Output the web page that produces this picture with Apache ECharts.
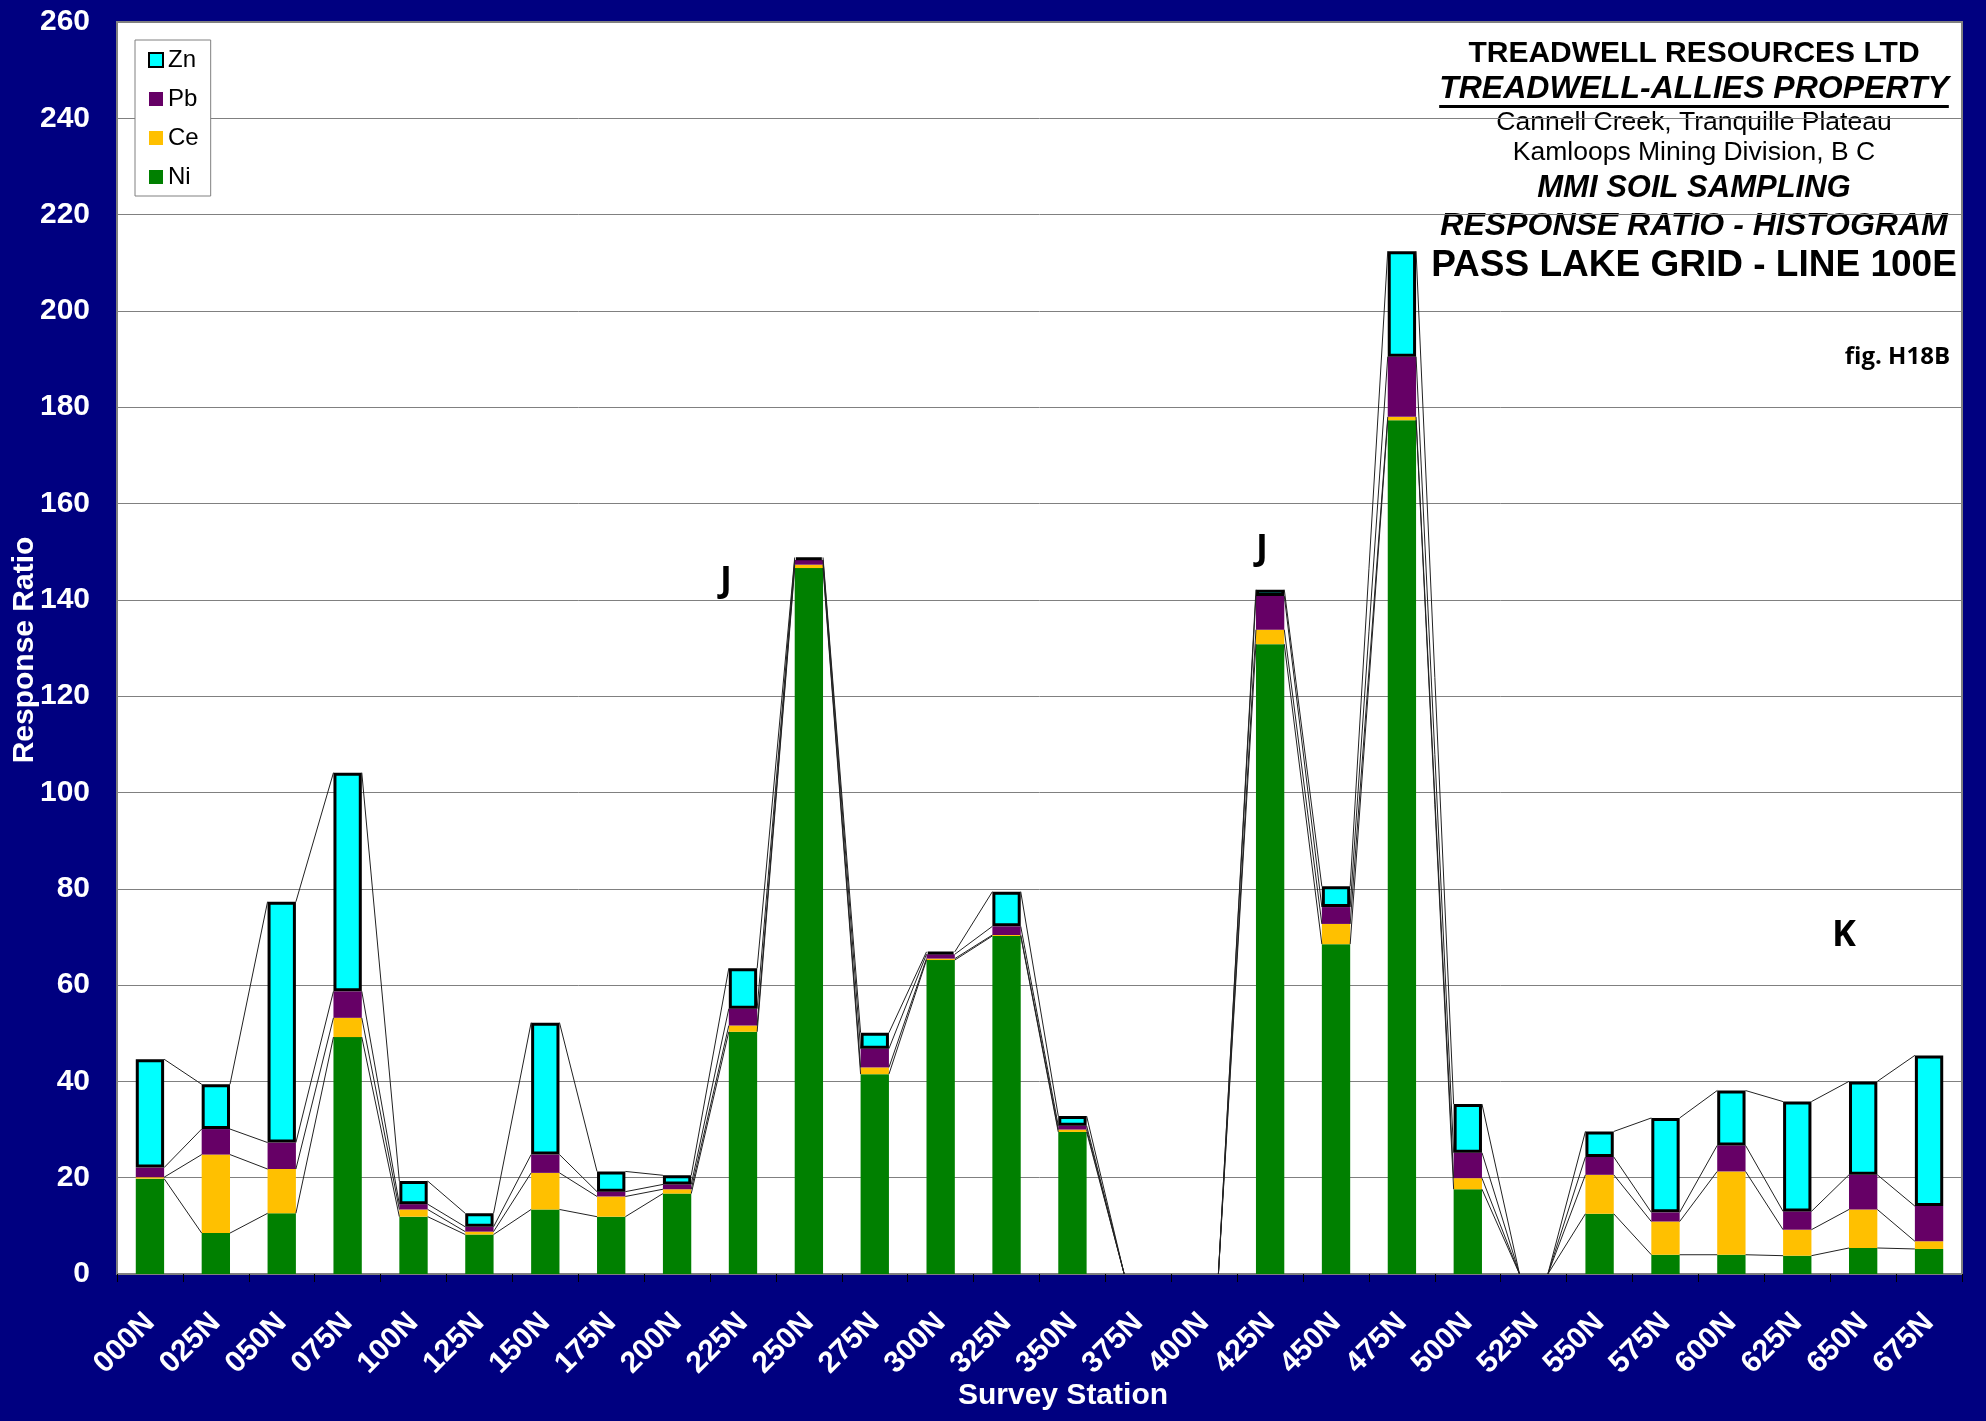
<!DOCTYPE html>
<html>
<head>
<meta charset="utf-8">
<script src="https://cdn.jsdelivr.net/npm/echarts@6/dist/echarts.min.js"></script>
<style>
  html, body { margin: 0; padding: 0; background: #000080; }
  #chart { width: 1986px; height: 1421px; }
</style>
</head>
<body>
<div id="chart"></div>
<script>
// Survey stations along line 100E
const stations = ['000N','025N','050N','075N','100N','125N','150N','175N','200N','225N',
  '250N','275N','300N','325N','350N','375N','400N','425N','450N','475N',
  '500N','525N','550N','575N','600N','625N','650N','675N'];

// Response ratios per element (stacked bottom to top: Ni, Ce, Pb, Zn)
const ni = [19.8, 8.5, 12.6, 49.2, 11.9, 8.2, 13.4, 11.9, 16.7, 50.3,
  146.6, 41.5, 65.2, 70.2, 29.5, 0, 0, 130.8, 68.5, 177.3,
  17.6, 0, 12.5, 4.0, 4.0, 3.8, 5.4, 5.2];
const ce = [0.3, 16.3, 9.2, 4.0, 1.5, 0.6, 7.6, 4.2, 0.9, 1.3,
  0.7, 1.4, 0.3, 0.2, 0.5, 0, 0, 3.0, 4.2, 0.7,
  2.3, 0, 8.1, 6.9, 17.3, 5.4, 8.0, 1.6];
const pb = [2.0, 5.3, 5.5, 5.5, 1.1, 1.0, 3.8, 1.0, 1.0, 3.5,
  1.0, 3.9, 0.9, 1.8, 0.8, 0, 0, 7.0, 3.5, 12.5,
  5.3, 0, 3.7, 1.9, 5.4, 3.8, 7.2, 7.3];
const zn = [22.5, 9.3, 50.0, 45.4, 4.8, 2.8, 27.4, 4.2, 1.9, 8.4,
  0.5, 3.3, 0.5, 7.2, 2.0, 0, 0, 1.3, 4.3, 21.9,
  10.1, 0, 5.3, 19.6, 11.4, 22.8, 19.4, 31.3];

// Value axis range
const yMin = 0, yMax = 260, yStep = 20;

// Title block lines
const titleLines = [
  { text: 'TREADWELL RESOURCES LTD', size: 30, weight: 'bold', style: 'normal', y: 54 },
  { text: 'TREADWELL-ALLIES PROPERTY', size: 32, weight: 'bold', style: 'italic', y: 89, underline: true },
  { text: 'Cannell Creek, Tranquille Plateau', size: 26.5, weight: 'normal', style: 'normal', y: 123 },
  { text: 'Kamloops Mining Division, B C', size: 26.5, weight: 'normal', style: 'normal', y: 153 },
  { text: 'MMI SOIL SAMPLING', size: 31, weight: 'bold', style: 'italic', y: 188 },
  { text: 'RESPONSE RATIO - HISTOGRAM', size: 32, weight: 'bold', style: 'italic', y: 226 },
  { text: 'PASS LAKE GRID - LINE 100E', size: 37, weight: 'bold', style: 'normal', y: 266 }
];
const figLabel = 'fig. H18B';
const zoneLabels = [
  { text: 'J', x: 726, y: 582 },
  { text: 'J', x: 1262, y: 550 },
  { text: 'K', x: 1844, y: 936 }
];

const FONT = 'Arial, "Liberation Sans", sans-serif';
const NOTE_FONT = '"Open Sans", "Noto Sans", sans-serif';
const BAR_FRACTION = 0.43;
const COLORS = { Zn: '#00FFFF', Pb: '#660066', Ce: '#FFC000', Ni: '#008000' };

// Cumulative tops of each stack level, used for the series lines
const layers = [ni, ce, pb, zn];
const cum = layers.map((_, k) =>
  stations.map((_, i) => layers.slice(0, k + 1).reduce((s, arr) => s + arr[i], 0)));

const asBar = arr => arr.map(v => (v === 0 ? '-' : v));

function textWidth(text, font) {
  const ctx = document.createElement('canvas').getContext('2d');
  ctx.font = font;
  return ctx.measureText(text).width;
}

const TITLE_CX = 1694;
const graphics = [];
titleLines.forEach(l => {
  const font = `${l.style} ${l.weight} ${l.size}px ${FONT}`;
  graphics.push({
    type: 'text', x: TITLE_CX, y: l.y, silent: true,
    style: { text: l.text, fill: '#000', font, textAlign: 'center', textVerticalAlign: 'middle' }
  });
  if (l.underline) {
    const w = textWidth(l.text, font);
    graphics.push({
      type: 'rect', silent: true,
      shape: { x: TITLE_CX - w / 2, y: l.y + l.size * 0.5, width: w, height: 3 },
      style: { fill: '#000' }
    });
  }
});
graphics.push({
  type: 'text', x: 1950, y: 357, silent: true,
  style: { text: figLabel, fill: '#000', font: `bold 24px ${NOTE_FONT}`, textAlign: 'right', textVerticalAlign: 'middle' }
});
zoneLabels.forEach(z => graphics.push({
  type: 'text', x: z.x, y: z.y, silent: true,
  style: { text: z.text, fill: '#000', font: `bold 36px ${NOTE_FONT}`, textAlign: 'center', textVerticalAlign: 'middle' }
}));
// Axis titles
graphics.push({
  type: 'text', x: 25, y: 650, rotation: Math.PI / 2, silent: true,
  style: { text: 'Response Ratio', fill: '#fff', font: `bold 30px ${FONT}`, textAlign: 'center', textVerticalAlign: 'middle' }
});
graphics.push({
  type: 'text', x: 1063, y: 1396, silent: true,
  style: { text: 'Survey Station', fill: '#fff', font: `bold 30px ${FONT}`, textAlign: 'center', textVerticalAlign: 'middle' }
});

const chart = echarts.init(document.getElementById('chart'), null, { renderer: 'canvas' });

const option = {
  backgroundColor: '#000080',
  animation: false,
  grid: {
    left: 117, top: 22, right: 24, bottom: 147,
    show: true, backgroundColor: '#ffffff', borderColor: '#808080', borderWidth: 2
  },
  legend: {
    data: [
      { name: 'Zn', itemStyle: { color: COLORS.Zn, borderColor: '#000', borderWidth: 2 } },
      'Pb', 'Ce', 'Ni'
    ],
    orient: 'vertical', left: 135, top: 40,
    icon: 'rect', itemWidth: 14, itemHeight: 14, itemGap: 15,
    padding: [8, 12, 7, 13],
    backgroundColor: '#fff', borderColor: '#808080', borderWidth: 1,
    textStyle: { color: '#000', fontSize: 24, lineHeight: 24, fontFamily: FONT }
  },
  xAxis: {
    type: 'category', data: stations,
    axisLine: { lineStyle: { color: '#808080', width: 2 } },
    axisTick: { show: true, alignWithLabel: false, length: 8, lineStyle: { color: '#000' } },
    axisLabel: {
      interval: 0, rotate: 45, margin: 44, color: '#fff',
      fontFamily: FONT, fontWeight: 'bold', fontSize: 30
    },
    splitLine: { show: false }
  },
  yAxis: {
    type: 'value', min: yMin, max: yMax, interval: yStep,
    axisLine: { show: false }, axisTick: { show: false },
    axisLabel: { color: '#fff', fontFamily: FONT, fontWeight: 'bold', fontSize: 30, margin: 27 },
    splitLine: { lineStyle: { color: '#808080', width: 1 } }
  },
  series: [
    { name: 'Ni', type: 'bar', stack: 'rr', barWidth: (BAR_FRACTION * 100) + '%', data: asBar(ni),
      itemStyle: { color: COLORS.Ni } },
    { name: 'Ce', type: 'bar', stack: 'rr', data: asBar(ce), itemStyle: { color: COLORS.Ce } },
    { name: 'Pb', type: 'bar', stack: 'rr', data: asBar(pb), itemStyle: { color: COLORS.Pb } },
    { name: 'Zn', type: 'bar', stack: 'rr', data: asBar(zn),
      itemStyle: { color: COLORS.Zn, borderColor: '#000', borderWidth: 3 } },
    {
      // series lines joining each stack level between neighbouring bars
      type: 'custom', silent: true, z: 5,
      data: stations.map((s, i) => [i, cum[3][i]]),
      renderItem(params, api) {
        const i = params.dataIndex;
        if (i >= stations.length - 1) return null;
        const half = api.size([1, 0])[0] * BAR_FRACTION / 2;
        const children = [];
        cum.forEach(c => {
          if (c[i] === 0 && c[i + 1] === 0) return;
          const a = api.coord([i, c[i]]);
          const b = api.coord([i + 1, c[i + 1]]);
          children.push({
            type: 'line',
            shape: { x1: a[0] + half, y1: a[1], x2: b[0] - half, y2: b[1] },
            style: { stroke: '#222', lineWidth: 1 }
          });
        });
        return { type: 'group', children };
      }
    }
  ],
  graphic: graphics
};

chart.setOption(option);
</script>
</body>
</html>
